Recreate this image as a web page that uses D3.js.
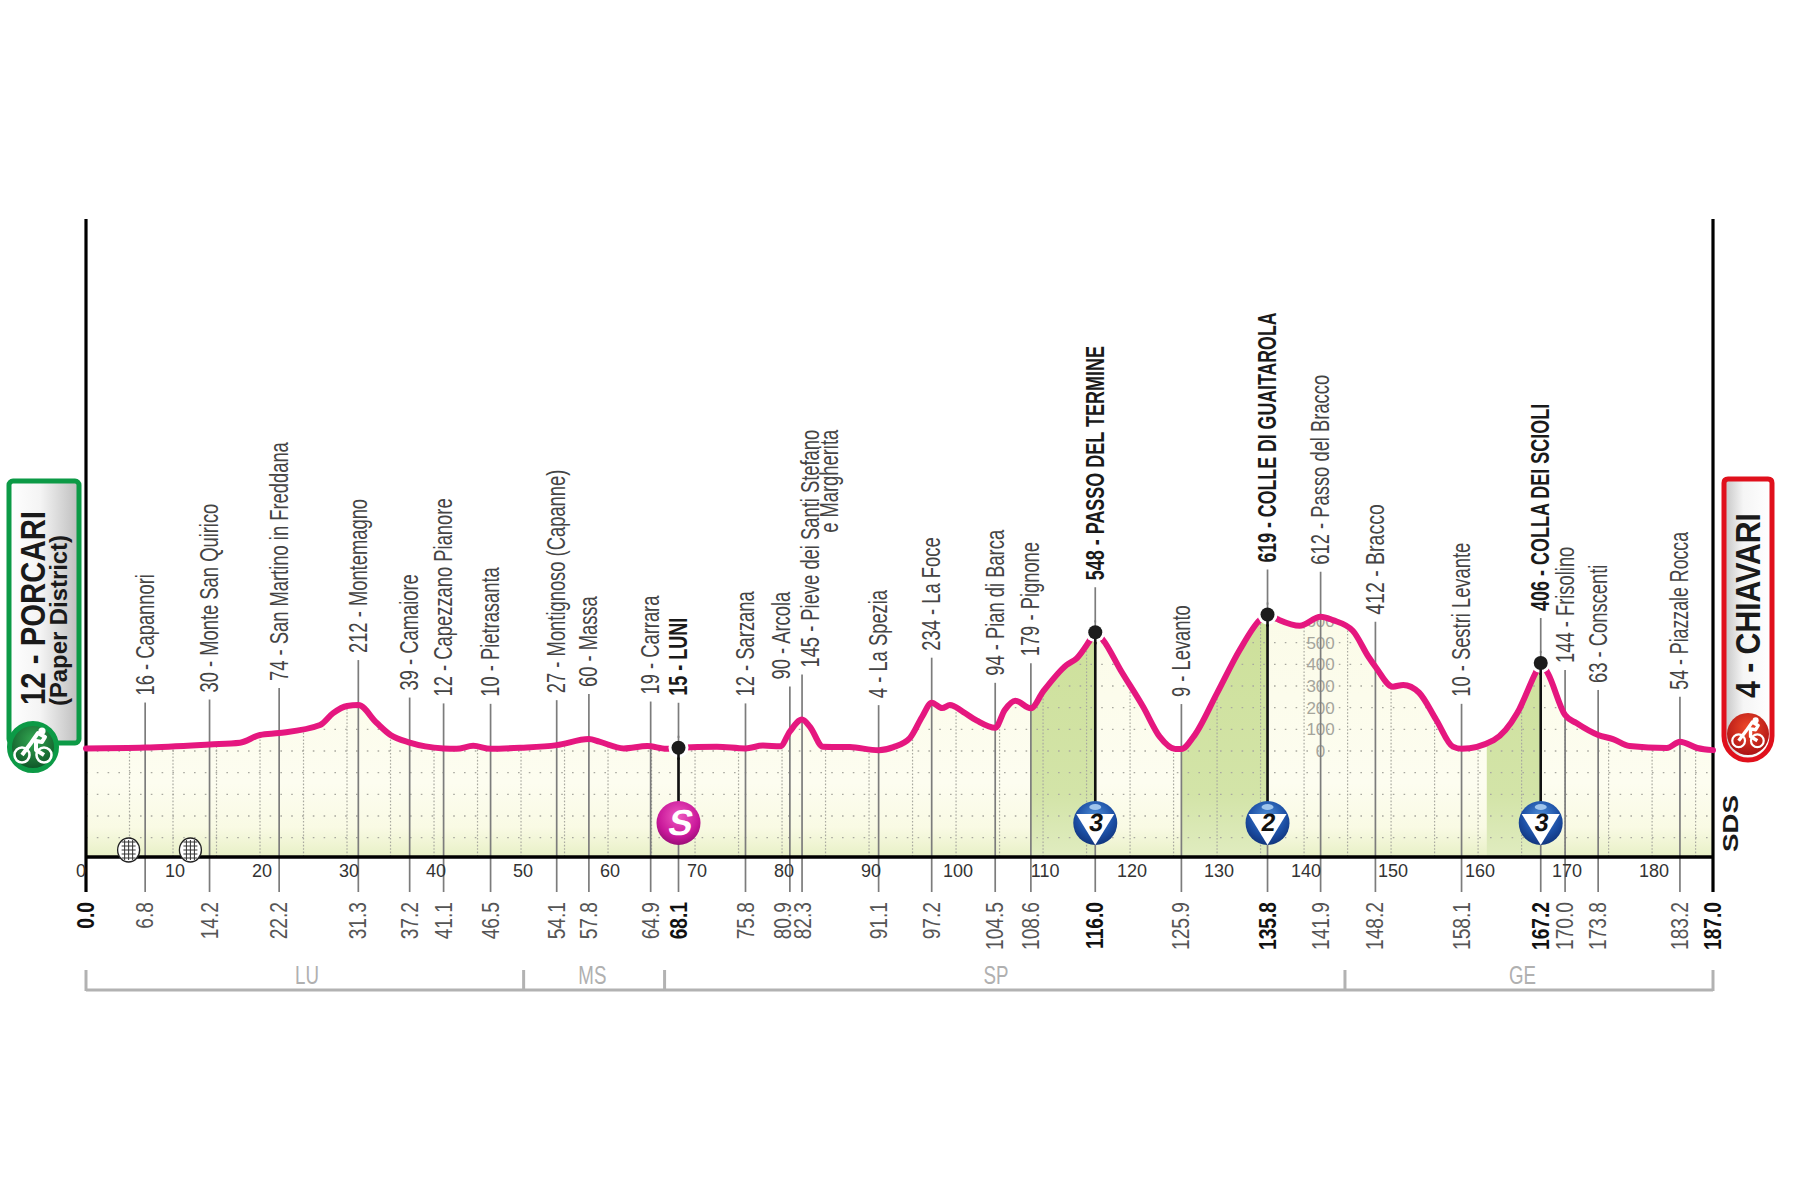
<!DOCTYPE html>
<html><head><meta charset="utf-8">
<script src="https://cdn.jsdelivr.net/npm/d3@7/dist/d3.min.js"></script>
<style>html,body{margin:0;padding:0;background:#fff}svg{display:block}text{font-family:"Liberation Sans Narrow","Liberation Sans",sans-serif}</style>
</head><body><div id="c"></div>
<script>
const profileKm=[0,6.8,14.2,17.7,20,22.2,26.9,28.4,30,31.3,33.4,35,37.2,41.1,42.6,44.5,46.5,50,54.1,57.8,59,61.8,64.5,66.7,68.1,72.5,75.8,77.8,79.8,80.9,82.3,83.2,84.7,87.8,91.1,92.8,94.7,96.1,97.2,98.4,99.3,100.8,102.4,104.5,105.6,106.8,108.6,110,112.7,113.9,115.4,116,116.9,118.9,121.5,123.4,125.2,125.9,127.3,130,132.6,134.9,135.8,136.9,139.5,141.9,143.3,145.6,147.4,148.2,150.2,151.4,153.2,155.2,157.1,158.1,161.8,164.5,166.6,167.2,168,170,171.3,173.8,175.5,177.4,181.7,183.2,185.2,187];
const profileElev=[12,16,30,38,74,83,120,175,208,212,130,74,39,12,10,24,10,15,27,55,43,12,23,10,15,20,12,25,22,90,145,112,20,18,4,18,60,158,223,198,212,181,140,107,189,232,197,274,397,429,512,548,512,374,204,66,9,9,66,267,466,604,630,609,578,620,604,555,435,389,297,305,270,143,20,10,50,175,360,406,360,166,129,74,55,23,14,43,14,4];
const placeKm=[6.8,14.2,22.2,31.3,37.2,41.1,46.5,54.1,57.8,64.9,68.1,75.8,80.9,82.3,91.1,97.2,104.5,108.6,116.0,125.9,135.8,141.9,148.2,158.1,167.2,170.0,173.8,183.2];
const placeElev=[16,30,74,212,39,12,10,27,60,19,15,12,90,145,4,234,94,179,548,9,619,612,412,10,406,144,63,54];
const placeName=["Capannori","Monte San Quirico","San Martino in Freddana","Montemagno","Camaiore","Capezzano Pianore","Pietrasanta","Montignoso (Capanne)","Massa","Carrara","LUNI","Sarzana","Arcola","Pieve dei Santi Stefano","La Spezia","La Foce","Pian di Barca","Pignone","PASSO DEL TERMINE","Levanto","COLLE DI GUAITAROLA","Passo del Bracco","Bracco","Sestri Levante","COLLA DEI SCIOLI","Frisolino","Conscenti","Piazzale Rocca"];
const boldKm=[0,68.1,116.0,135.8,167.2,187.0];
const climbStart=[108.6,125.9,161];
const climbEnd=[116,135.8,167.2];
const badgeKm=[68.1,116.0,135.8,167.2];
const badgeText=["S","3","2","3"];
const provinceName=["LU","MS","SP","GE"];
const provinceEdges=[0,50.3,66.5,144.7,187];
const provinceLabelKm=[25.4,58.2,104.6,165.1];
const crossingKm=[4.9,12];
const kmTicks=d3.range(0,181,10);
const dotKm=d3.range(5,187,5);
const elevGrid=d3.range(-400,601,100);
const elevLabels=[0,100,200,300,400,500,600];

const W=1800,H=1198;
const x=d3.scaleLinear([0,187],[86,1713]);
const y=d3.scaleLinear([0,600],[751,621]);
const baseY=857,stemY=892,axisTop=219;
const elevAt=d3.scaleLinear(profileKm,profileElev);
const svg=d3.select("#c").append("svg").attr("width",W).attr("height",H).attr("viewBox",`0 0 ${W} ${H}`);
const defs=svg.append("defs");
function grad(id,stops,h){const g=defs.append("linearGradient").attr("id",id).attr("x1",0).attr("y1",0).attr("x2",h?1:0).attr("y2",h?0:1);
 stops.forEach(s=>g.append("stop").attr("offset",s[0]).attr("stop-color",s[1]));}
function rgrad(id,stops){const g=defs.append("radialGradient").attr("id",id).attr("cx","50%").attr("cy","35%").attr("r","70%");
 stops.forEach(s=>g.append("stop").attr("offset",s[0]).attr("stop-color",s[1]));}
defs.append("linearGradient").attr("id","land").attr("gradientUnits","userSpaceOnUse").attr("x1",0).attr("x2",0).attr("y1",610).attr("y2",baseY)
 .selectAll("stop").data([[0,"#fbfbe8"],[.7,"#fdfdf0"],[.88,"#f9fae4"],[1,"#e8f0c6"]]).join("stop").attr("offset",d=>d[0]).attr("stop-color",d=>d[1]);
defs.append("linearGradient").attr("id","climb").attr("gradientUnits","userSpaceOnUse").attr("x1",0).attr("x2",0).attr("y1",610).attr("y2",baseY)
 .selectAll("stop").data([[0,"#cde09a"],[.75,"#d3e4a8"],[1,"#e0ecc0"]]).join("stop").attr("offset",d=>d[0]).attr("stop-color",d=>d[1]);
grad("boxG",[[0,"#ffffff"],[.45,"#f4f4f4"],[1,"#bdbdbd"]],true);
grad("boxR",[[0,"#c4c4c4"],[.4,"#f5f5f5"],[1,"#ffffff"]],true);
rgrad("blue",[[0,"#4f8fd8"],[.6,"#1c4fa5"],[1,"#0f2f74"]]);
rgrad("mag",[[0,"#ef5bc0"],[.65,"#c9189a"],[1,"#8f0b6e"]]);
rgrad("gIcon",[[0,"#33a852"],[1,"#0a4a22"]]);
rgrad("rIcon",[[0,"#f04a2a"],[1,"#a70d12"]]);

const pts=profileKm.map((k,i)=>[k,profileElev[i]]);
const area=d3.area().x(d=>x(d[0])).y0(baseY).y1(d=>y(d[1])).curve(d3.curveMonotoneX);
const line=d3.line().x(d=>x(d[0])).y(d=>y(d[1])).curve(d3.curveMonotoneX);
defs.append("clipPath").attr("id","landClip").append("path").attr("d",area(pts));

const land=svg.append("g").attr("clip-path","url(#landClip)");
land.append("rect").attr("x",x(0)).attr("y",600).attr("width",x(187)-x(0)).attr("height",baseY-600).attr("fill","url(#land)");
land.selectAll("rect.cl").data(climbStart).join("rect").attr("class","cl").attr("x",d=>x(d)).attr("y",600)
 .attr("width",(d,i)=>x(climbEnd[i])-x(d)).attr("height",baseY-600).attr("fill","url(#climb)");
land.selectAll("line.h").data(elevGrid).join("line").attr("class","h").attr("x1",x(0)).attr("x2",x(187)).attr("y1",d=>y(d)).attr("y2",d=>y(d))
 .attr("stroke","#a9a9a0").attr("stroke-width",1.4).attr("stroke-dasharray","1.6 9.2");
land.selectAll("line.v").data(dotKm).join("line").attr("class","v").attr("x1",d=>x(d)).attr("x2",d=>x(d)).attr("y1",600).attr("y2",baseY)
 .attr("stroke","#a9a9a0").attr("stroke-width",1.2).attr("stroke-dasharray","1.6 1.8");
land.selectAll("text.el").data(elevLabels).join("text").attr("class","el").attr("x",x(141.9)).attr("y",d=>y(d)+6).attr("text-anchor","middle")
 .attr("font-size",17).attr("fill","#a5a59c").text(d=>d);

// stems and place labels
const stems=svg.append("g");
const labels=svg.append("g");
const isBold=k=>boldKm.includes(k);
const hasBadge=k=>badgeKm.includes(k);
const nudge={"Arcola":-8,"Pieve dei Santi Stefano":8};
const regScale=.735,boldScale=.72;
const widthTweak={"COLLE DI GUAITAROLA":.71,"Bracco":.78,"Piazzale Rocca":.71};
placeKm.forEach((k,i)=>{
 const py=y(elevAt(k)),top=py-45,cx=x(k);
 stems.append("line").attr("x1",cx).attr("x2",cx).attr("y1",top).attr("y2",stemY).attr("stroke","#7c7c7c").attr("stroke-width",1.7);
 if(hasBadge(k)) stems.append("line").attr("x1",cx).attr("x2",cx).attr("y1",py).attr("y2",822).attr("stroke","#111").attr("stroke-width",2.6);
 const b=isBold(k),tx=cx+(nudge[placeName[i]]||0)+8.5,ty=top-7;
 const sx=widthTweak[placeName[i]]||(b?boldScale:regScale);
 labels.append("text").attr("transform",`translate(${tx},${ty}) rotate(-90) scale(${sx},1)`)
  .attr("font-size",25).attr("font-weight",b?700:400).attr("fill",b?"#1a1a1a":"#444").text(`${placeElev[i]} - ${placeName[i]}`);
});
// second line of the Pieve label
{const k=82.3,top=y(elevAt(k))-45-7;
 const first=labels.selectAll("text").filter(function(){return d3.select(this).text().startsWith("145");});
 const len=first.node().getComputedTextLength()*regScale;
 labels.append("text").attr("transform",`translate(${x(k)+36},${top-len}) rotate(-90) scale(${regScale},1)`).attr("text-anchor","end")
  .attr("font-size",25).attr("fill","#444").text("e Margherita");}
// end stems
[0,187].forEach(k=>svg.append("line").attr("x1",x(k)).attr("x2",x(k)).attr("y1",axisTop).attr("y2",stemY).attr("stroke","#000").attr("stroke-width",3.2));
svg.append("line").attr("x1",x(0)).attr("x2",x(187)).attr("y1",baseY).attr("y2",baseY).attr("stroke","#000").attr("stroke-width",3.4);

// profile line
svg.append("path").attr("d",line(pts)).attr("fill","none").attr("stroke","#e5177f").attr("stroke-width",6).attr("stroke-linejoin","round").attr("stroke-linecap","round");

// summit dots
svg.selectAll("circle.halo").data(badgeKm).join("circle").attr("class","halo").attr("cx",d=>x(d)).attr("cy",d=>y(elevAt(d))).attr("r",10).attr("fill","#fff");
svg.selectAll("line.cap").data(badgeKm).join("line").attr("class","cap").attr("x1",d=>x(d)).attr("x2",d=>x(d)).attr("y1",d=>y(elevAt(d))-12).attr("y2",d=>y(elevAt(d))).attr("stroke","#7c7c7c").attr("stroke-width",1.7);
svg.selectAll("line.cap2").data(badgeKm).join("line").attr("class","cap2").attr("x1",d=>x(d)).attr("x2",d=>x(d)).attr("y1",d=>y(elevAt(d))).attr("y2",d=>y(elevAt(d))+12).attr("stroke","#111").attr("stroke-width",2.6);
svg.selectAll("circle.dot").data(badgeKm).join("circle").attr("class","dot").attr("cx",d=>x(d)).attr("cy",d=>y(elevAt(d))).attr("r",7).attr("fill","#1c1c1c");

// km axis numbers
svg.selectAll("text.km").data(kmTicks).join("text").attr("class","km").attr("x",d=>x(d)+(d===0?-5:2)).attr("y",877).attr("text-anchor","middle")
 .attr("font-size",18).attr("fill","#333").text(d=>d);
// distance labels
const distKm=[0,...placeKm,187];
const distNudge={80.9:-7,82.3:1};
svg.selectAll("text.dist").data(distKm).join("text").attr("class","dist")
 .attr("transform",d=>`translate(${x(d)+8+(distNudge[d]||0)},902) rotate(-90) scale(.8,1)`).attr("text-anchor","end")
 .attr("font-size",24).attr("font-weight",d=>isBold(d)?700:400).attr("fill",d=>isBold(d)?"#111":"#555").text(d=>d.toFixed(1));

// province brackets
const prov=svg.append("g").attr("fill","none").attr("stroke","#b2b2b2").attr("stroke-width",3);
prov.append("line").attr("x1",x(0)).attr("x2",x(187)).attr("y1",990).attr("y2",990);
provinceEdges.forEach(k=>prov.append("line").attr("x1",x(k)).attr("x2",x(k)).attr("y1",970).attr("y2",991));
svg.selectAll("text.pv").data(provinceName).join("text").attr("class","pv")
 .attr("transform",(d,i)=>`translate(${x(provinceLabelKm[i])},984) scale(.72,1)`).attr("text-anchor","middle")
 .attr("font-size",26).attr("fill","#b0b0b0").text(d=>d);

// crossing markers
crossingKm.forEach(k=>{const g=svg.append("g").attr("transform",`translate(${x(k)},850)`);
 g.append("ellipse").attr("rx",11).attr("ry",12).attr("fill","#fff").attr("stroke","#222").attr("stroke-width",1.3);
 [-4,0,4].forEach(d=>g.append("line").attr("x1",d).attr("x2",d).attr("y1",-10).attr("y2",10).attr("stroke","#333").attr("stroke-width",1));
 [-8,-4,0,4,8].forEach(d=>g.append("line").attr("x1",-7).attr("x2",7).attr("y1",d).attr("y2",d).attr("stroke","#333").attr("stroke-width",1));
});

// badges
badgeKm.forEach((k,i)=>{const g=svg.append("g").attr("transform",`translate(${x(k)},823)`),t=badgeText[i];
 if(t==="S"){
  g.append("circle").attr("r",22).attr("fill","url(#mag)");
  g.append("text").attr("transform","translate(0,12) skewX(-12)").attr("text-anchor","middle").attr("font-size",36).attr("font-weight",700).attr("fill","#fff").attr("style","font-family:'Liberation Sans'").text("S");
 }else{
  g.append("circle").attr("r",22).attr("fill","url(#blue)");
  g.append("ellipse").attr("cy",-16).attr("rx",6).attr("ry",3).attr("fill","#9fc4ec");
  g.append("path").attr("d","M-19,-9L19,-9L0,22Z").attr("fill","#fff");
  g.append("text").attr("transform","translate(0,8) skewX(-8)").attr("text-anchor","middle").attr("font-size",25).attr("font-weight",700).attr("fill","#111").text(t);
 }
});

// start / finish plaques
function bike(g,c){
 g.append("circle").attr("cx",-11).attr("cy",8).attr("r",7.5).attr("fill","none").attr("stroke",c).attr("stroke-width",2.6);
 g.append("circle").attr("cx",11).attr("cy",8).attr("r",7.5).attr("fill","none").attr("stroke",c).attr("stroke-width",2.6);
 g.append("path").attr("d","M-11,8L-2,-4L5,-14L12,-10L9,-5L3,-6L3,3L11,8").attr("fill","none").attr("stroke",c).attr("stroke-width",4).attr("stroke-linejoin","round");
 g.append("circle").attr("cx",9).attr("cy",-16).attr("r",3.6).attr("fill",c);
}
const boldSans="font-family:'Liberation Sans'";
function vtext(tx,ty,len,size,s){svg.append("text").attr("transform",`translate(${tx},${ty}) rotate(-90)`).attr("font-size",size).attr("font-weight",700)
 .attr("fill","#1a1a1a").attr("style",boldSans).attr("textLength",len).attr("lengthAdjust","spacingAndGlyphs").text(s);}
// left plaque
svg.append("rect").attr("x",9).attr("y",481).attr("width",70).attr("height",262).attr("rx",4).attr("fill","url(#boxG)").attr("stroke","#0c9a46").attr("stroke-width",5);
svg.append("circle").attr("cx",33).attr("cy",747).attr("r",23.5).attr("fill","url(#gIcon)").attr("stroke","#0c9a46").attr("stroke-width",5);
bike(svg.append("g").attr("transform","translate(33,747)"),"#fff");
vtext(45,705,194,35,"12 - PORCARI");
vtext(67,706,171,24,"(Paper District)");
// right plaque: small top corners, fully rounded foot
svg.append("path").attr("d","M1728,479H1768Q1772,479 1772,483V736A24,24 0 0 1 1724,736V483Q1724,479 1728,479Z").attr("fill","url(#boxR)").attr("stroke","#e0101c").attr("stroke-width",5);
svg.append("circle").attr("cx",1748).attr("cy",734).attr("r",21).attr("fill","url(#rIcon)");
bike(svg.append("g").attr("transform","translate(1748,734) scale(.85)"),"#fff");
vtext(1760,698,185,35,"4 - CHIAVARI");
vtext(1738,852,57,22,"SDS");
</script></body></html>
